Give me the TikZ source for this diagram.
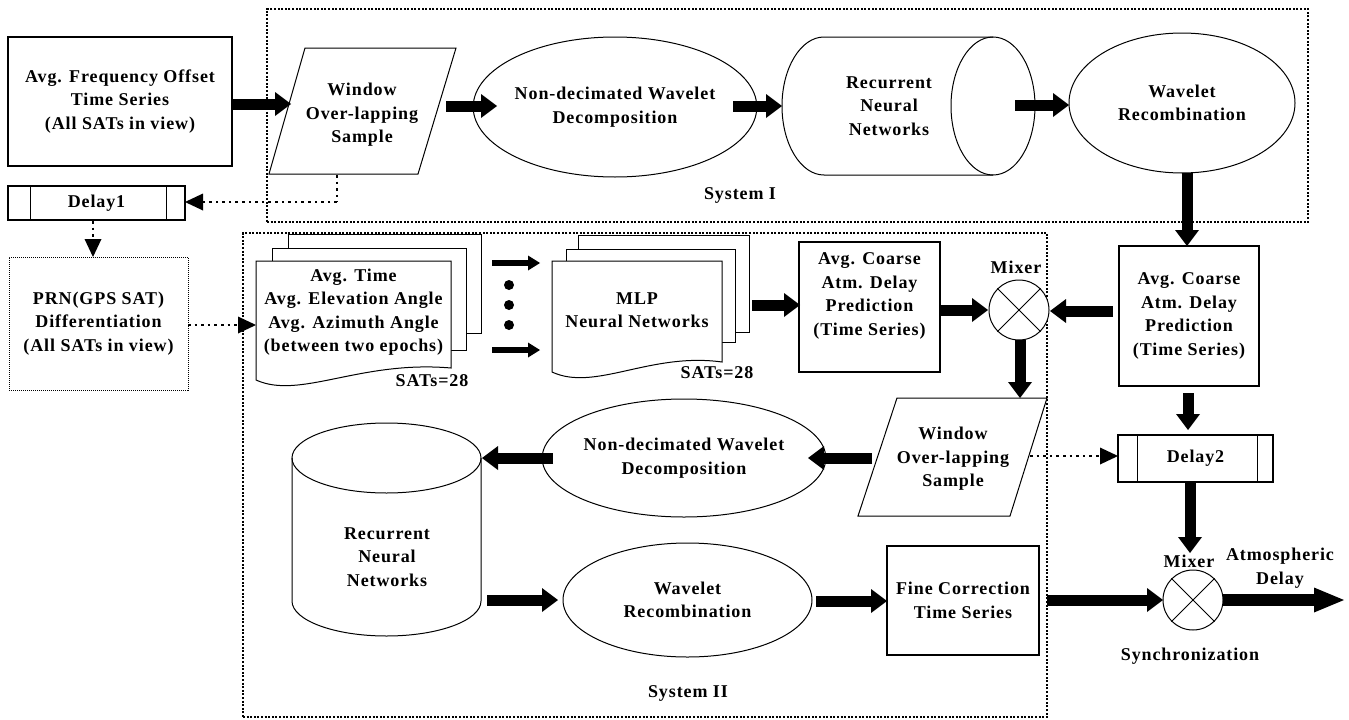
\documentclass[tikz,border=0pt]{standalone}
\usepackage{fontspec}
\setmainfont{Liberation Serif}[LetterSpace=5]
\usetikzlibrary{arrows.meta,shapes.geometric,calc}
\begin{document}
\begin{tikzpicture}[x=1pt,y=-1pt,
 every node/.style={font=\fontsize{18}{23.5}\selectfont\bfseries, align=center, inner sep=0pt},
 box/.style={draw, line width=1.2pt, fill=white},
 ell/.style={draw, ellipse, line width=1pt, fill=white},
 lw/.style={line width=1pt},
 big/.style={line width=11pt, -{Triangle[width=24pt,length=16pt,line width=0pt]}},
 bigout/.style={line width=12pt, -{Triangle[width=25pt,length=30pt,line width=0pt]}},
 smallarr/.style={line width=6pt, -{Triangle[width=15pt,length=12pt,line width=0pt]}},
 dotconn/.style={line width=2.6pt, dash pattern=on 2.6pt off 4pt, -{Triangle[width=17pt,length=18pt,line width=0pt]}},
 dotline/.style={line width=2.6pt, dash pattern=on 2.6pt off 4pt},
 sysbox/.style={draw, line width=2.4pt, dash pattern=on 2pt off 1.6pt, inner sep=0pt}
]
\useasboundingbox (0,0) rectangle (1349,720);

% ---------- system frames ----------
\node[sysbox, minimum width=1041, minimum height=213] (sysI) at (787.5,115.5) {};
\node[sysbox, minimum width=804, minimum height=484] (sysII) at (645,475) {};
\node (sysIlabel) at (740,195) {System I};
\node (sysIIlabel) at (688,693) {System II};

% ---------- top row ----------
\node[box, minimum width=224, minimum height=129] (freq) at (120,101.5) {Avg. Frequency Offset\\Time Series\\(All SATs in view)};

\coordinate (w1a) at (305,48); \coordinate (w1b) at (456,48);
\coordinate (w1c) at (418,174); \coordinate (w1d) at (269,174);
\filldraw[lw, fill=white] (w1a) -- (w1b) -- (w1c) -- (w1d) -- cycle;
\node (win1) at (362,115) {Window\\Over-lapping\\Sample};

\node[ell, minimum width=236, minimum height=140] (nd1) at (615,107) {Non-decimated Wavelet\\Decomposition};

\filldraw[lw, fill=white] (993,37) -- (824,37) arc[start angle=90, end angle=270, x radius=42pt, y radius=69pt] -- (993,175);
\draw[lw] (993,106) ellipse [x radius=42pt, y radius=69pt];
\node (rnn1) at (889,106) {Recurrent\\Neural\\Networks};

\node[ell, minimum width=226, minimum height=140] (wr1) at (1182,103) {Wavelet\\Recombination};

\node[box, minimum width=177, minimum height=34] (d1) at (96.5,203) {Delay1};
\draw[lw] ($(d1.north west)+(23,0)$) -- ($(d1.south west)+(23,0)$);
\draw[lw] ($(d1.north east)+(-19,0)$) -- ($(d1.south east)+(-19,0)$);

\node[draw, line width=0.8pt, dash pattern=on 1pt off 1pt, minimum width=179, minimum height=133] (prn) at (98.5,323.5) {PRN(GPS SAT)\\Differentiation\\(All SATs in view)};

% ---------- middle row ----------
\filldraw[lw, fill=white] (288,234) rectangle (481,333);
\filldraw[lw, fill=white] (272,248) rectangle (466,350);
\filldraw[lw, fill=white] (256,380) -- (256,261) -- (451,261) -- (451,368) .. controls (360,360) and (300,400) .. (256,380) -- cycle;
\node (avg) at (353.5,312) {Avg. Time\\Avg. Elevation Angle\\Avg. Azimuth Angle\\(between two epochs)};
\node (sats1) at (432,381) {SATs=28};

\fill (509,285) circle[radius=5pt] (509,305) circle[radius=5pt] (509,325) circle[radius=5pt];

\filldraw[lw, fill=white] (578,235) rectangle (749,332);
\filldraw[lw, fill=white] (566,249) rectangle (735,342);
\filldraw[lw, fill=white] (552,372) -- (552,261) -- (722,261) -- (722,362) .. controls (650,352) and (595,392) .. (552,372) -- cycle;
\node (mlp) at (637,310) {MLP\\Neural Networks};
\node (sats2) at (717,373) {SATs=28};

\node[box, minimum width=141, minimum height=130] (cm) at (869.5,307) {};
\node (cmtext) at (869.5,296) {Avg. Coarse\\Atm. Delay\\Prediction\\(Time Series)};

\node[draw, circle, lw, fill=white, minimum size=60] (mx1) at (1019,310) {};
\draw[lw] (mx1.north west) -- (mx1.south east) (mx1.north east) -- (mx1.south west);
\node (mx1l) at (1016,267) {Mixer};

\node[box, minimum width=140, minimum height=140] (cr) at (1189,316) {Avg. Coarse\\Atm. Delay\\Prediction\\(Time Series)};

% ---------- lower part ----------
\coordinate (w2a) at (897,398); \coordinate (w2b) at (1047,398);
\coordinate (w2c) at (1010,516); \coordinate (w2d) at (858,516);
\filldraw[lw, fill=white] (w2a) -- (w2b) -- (w2c) -- (w2d) -- cycle;
\node (win2) at (953,459) {Window\\Over-lapping\\Sample};

\node[box, minimum width=155, minimum height=47] (d2) at (1195.5,458.5) {Delay2};
\draw[lw] ($(d2.north west)+(20,0)$) -- ($(d2.south west)+(20,0)$);
\draw[lw] ($(d2.north east)+(-16,0)$) -- ($(d2.south east)+(-16,0)$);

\node[ell, minimum width=248, minimum height=118] (nd2) at (684,458) {Non-decimated Wavelet\\Decomposition};
\node[ell, minimum width=249, minimum height=114] (wr2) at (687.5,600) {Wavelet\\Recombination};

\filldraw[lw, fill=white] (292,458) -- (292,601) arc[start angle=180, end angle=360, x radius=94.5pt, y radius=35pt] -- (481,458);
\draw[lw] (386.5,458) ellipse [x radius=94.5pt, y radius=35pt];
\node (rnn2) at (387,557) {Recurrent\\Neural\\Networks};

\node[box, minimum width=152, minimum height=109] (fine) at (963,600.5) {Fine Correction\\Time Series};

\node[draw, circle, lw, fill=white, minimum size=60] (mx2) at (1193,600) {};
\draw[lw] (mx2.north west) -- (mx2.south east) (mx2.north east) -- (mx2.south west);
\node (mx2l) at (1189,561) {Mixer};
\node (atm) at (1280,568) {Atmospheric\\Delay};
\node (sync) at (1190,656) {Synchronization};

% ---------- ports ----------
\coordinate (p1s) at (232,104);  \coordinate (p1e) at (291,104);
\coordinate (p2s) at (446,106);  \coordinate (p2e) at (497,106);
\coordinate (p3s) at (733,106);  \coordinate (p3e) at (782,106);
\coordinate (p4s) at (1015,105); \coordinate (p4e) at (1069,105);
\coordinate (p5s) at (1187,173); \coordinate (p5e) at (1187,246);
\coordinate (p6s) at (1113,311); \coordinate (p6e) at (1050,311);
\coordinate (p7s) at (940,310);  \coordinate (p7e) at (988,310);
\coordinate (p8s) at (752,305);  \coordinate (p8e) at (800,305);
\coordinate (p9s) at (1020,340); \coordinate (p9e) at (1020,398);
\coordinate (p10s) at (1188,393); \coordinate (p10e) at (1188,430);
\coordinate (p11s) at (1190,482); \coordinate (p11e) at (1190,553);
\coordinate (p12s) at (872,458); \coordinate (p12e) at (808,458);
\coordinate (p13s) at (553,458); \coordinate (p13e) at (482,458);
\coordinate (p14s) at (487,600); \coordinate (p14e) at (558,600);
\coordinate (p15s) at (816,601); \coordinate (p15e) at (887,601);
\coordinate (p16s) at (1047,600); \coordinate (p16e) at (1163,600);
\coordinate (p17s) at (1223,600); \coordinate (p17e) at (1344,600);
\coordinate (sa1s) at (492,263); \coordinate (sa1e) at (540,263);
\coordinate (sa2s) at (492,350); \coordinate (sa2e) at (540,350);
\coordinate (dwin1) at (337,175); \coordinate (dturn) at (337,202); \coordinate (dd1) at (185,202);
\coordinate (dd1b) at (93,221); \coordinate (dprn) at (93,257);
\coordinate (dprnr) at (188,325); \coordinate (davg) at (256,325);
\coordinate (dwin2) at (1030,456); \coordinate (dd2) at (1118,456);

% ---------- thick arrows ----------
\draw[big] (p1s) -- (p1e);
\draw[big] (p2s) -- (p2e);
\draw[big] (p3s) -- (p3e);
\draw[big] (p4s) -- (p4e);
\draw[big] (p5s) -- (p5e);
\draw[big] (p6s) -- (p6e);
\draw[big] (p7s) -- (p7e);
\draw[big] (p8s) -- (p8e);
\draw[big] (p9s) -- (p9e);
\draw[big] (p10s) -- (p10e);
\draw[big] (p11s) -- (p11e);
\draw[big] (p12s) -- (p12e);
\draw[big] (p13s) -- (p13e);
\draw[big] (p14s) -- (p14e);
\draw[big] (p15s) -- (p15e);
\draw[big] (p16s) -- (p16e);
\draw[bigout] (p17s) -- (p17e);
\draw[smallarr] (sa1s) -- (sa1e);
\draw[smallarr] (sa2s) -- (sa2e);

% ---------- dotted connectors ----------
\draw[dotline] (dwin1) -- (dturn);
\draw[dotconn] (dturn) -- (dd1);
\draw[dotconn] (dd1b) -- (dprn);
\draw[dotconn] (dprnr) -- (davg);
\draw[dotconn] (dwin2) -- (dd2);
\end{tikzpicture}
\end{document}
